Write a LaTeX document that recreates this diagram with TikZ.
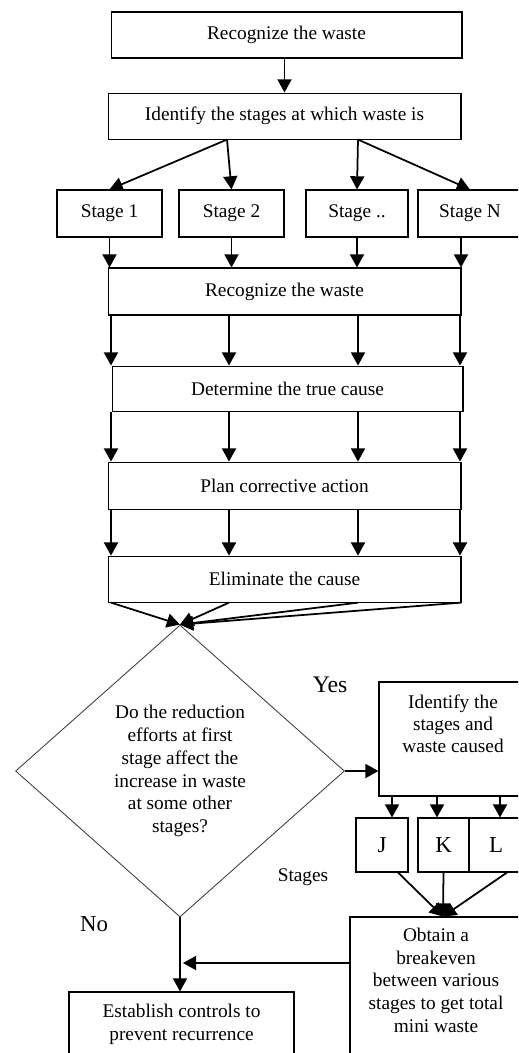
\documentclass[tikz,border=0pt]{standalone}
\usepackage{fontspec}
\setmainfont{Liberation Serif}
\usepackage{tikz}
\usetikzlibrary{shapes.geometric, arrows.meta, positioning}

\begin{document}
\begin{tikzpicture}[x=0.02cm, y=-0.02cm, font=\fontsize{11}{13}\selectfont,
	box/.style={draw, rectangle, align=center, line width=0.6pt, inner sep=0pt},
	wide/.style={box, minimum width=7.06cm, minimum height=0.94cm},
	stagebox/.style={box, minimum width=2.1cm, minimum height=0.94cm},
	letterbox/.style={box, minimum width=1.04cm, minimum height=1.08cm, font=\fontsize{13}{15}\selectfont},
	decision/.style={draw=black!75, diamond, align=center, minimum width=6.58cm, minimum height=5.84cm, inner sep=0pt, line width=0.5pt},
	arr/.style={-{Triangle[length=7.5pt, width=8pt]}, line width=1pt},
	txt/.style={align=center, inner sep=0pt}]
	
	\useasboundingbox (0,0) rectangle (518,1053);
	\clip (0,0) rectangle (518,1053);
	
	\node[wide, minimum width=7.02cm, minimum height=0.92cm] (rec1) at (286.5,35) {Recognize the waste};
	
	\node[wide, minimum height=0.92cm, below=0.68cm of rec1, xshift=-0.04cm] (ident) {Identify the stages at which waste is};
	
	\node[stagebox] (stage1) at (109.5,213.5) {Stage 1};
	\node[stagebox] (stage2) at (231.5,213.5) {Stage 2};
	\node[stagebox, minimum width=2.04cm] (stagedots) at (357,213.5) {Stage ..};
	\node[stagebox, minimum width=2.08cm] (stageN) at (470,213.5) {Stage N};
	
	\node[wide] (rec2) at (284.5,291.5) {Recognize the waste};
	\node[wide, minimum width=7.02cm, minimum height=0.9cm, below=1cm of rec2, xshift=0.06cm] (determine) {Determine the true cause};
	\node[wide, below=1cm of determine, xshift=-0.06cm] (plan) {Plan corrective action};
	\node[wide, minimum height=0.92cm, below=0.92cm of plan] (elim) {Eliminate the cause};
	
	\node[decision] (diamond) at (180,771) {Do the reduction\\efforts at first\\stage affect the\\increase in waste\\at some other\\stages?};
	
	\node[box, minimum width=2.96cm, minimum height=2.28cm] (idbox) at (453,739) {};
	\node[txt, below=0.27cm of idbox.north, font=\fontsize{11}{12.5}\selectfont] (idtext) {Identify the\\stages and\\waste caused};
	
	\node[letterbox] (J) at (382,845) {J};
	\node[letterbox, minimum width=1.02cm] (K) at (443.5,845) {K};
	\node[letterbox, minimum width=1.08cm] (L) at (496,845) {L};
	
	\node[box, minimum width=3.44cm, minimum height=3.06cm] (obtain) at (436,993.5) {};
	\node[txt, below=0.22cm of obtain.north] (obtaintext) {Obtain a\\breakeven\\between various\\stages to get total\\mini waste};
	
	\node[box, minimum width=4.5cm, minimum height=1.6cm] (establish) at (181.5,1032) {};
	\node[txt, below=0.25cm of establish.north] (establishtext) {Establish controls to\\prevent recurrence};
	
	\node[txt, font=\fontsize{13.5}{15}\selectfont] (yes) at (330,685) {Yes};
	\node[txt, font=\fontsize{13}{15}\selectfont] (no) at (94,924) {No};
	\node[txt] (stages) at (303,877) {Stages};
	
	\coordinate (meet) at (183,963);
	
	\draw[arr] (rec1.south -| ident) -- (ident.north);
	
	\draw[arr] ([xshift=-1.15cm]ident.south) -- (stage1.north);
	\draw[arr] ([xshift=-1.15cm]ident.south) -- (stage2.north);
	\draw[arr] ([xshift=1.47cm]ident.south) -- (stagedots.north);
	\draw[arr] ([xshift=1.47cm]ident.south) -- (stageN.north);
	
	\foreach \s in {stage1, stage2, stagedots}
		\draw[arr] (\s.south) -- (\s.south |- rec2.north);
	\draw[arr] ([xshift=-0.18cm]stageN.south) -- ([xshift=-0.18cm]stageN.south |- rec2.north);
	
	\foreach \a/\b in {rec2/determine, determine/plan, plan/elim}
		\foreach \cx in {111, 229, 358, 460}
			\draw[arr] (\cx,0 |- \a.south) -- (\cx,0 |- \b.north);
	
	\foreach \cx in {111, 229, 358, 461}
		\draw[arr] (\cx,0 |- elim.south) -- (diamond.north);
	
	\draw[arr] (diamond.east) -- (diamond.east -| idbox.west);
	
	\draw[arr] ([xshift=0.2cm]J.north |- idbox.south) -- ([xshift=0.2cm]J.north);
	\draw[arr] ([xshift=-0.13cm]K.north |- idbox.south) -- ([xshift=-0.13cm]K.north);
	\draw[arr] ([xshift=0.08cm]L.north |- idbox.south) -- ([xshift=0.08cm]L.north);
	
	\draw[arr] ([xshift=0.32cm]J.south) -- ([xshift=0.14cm]obtain.north);
	\draw[arr] (K.south) -- ([xshift=0.14cm]obtain.north);
	\draw[arr] ([xshift=0.22cm]L.south) -- ([xshift=0.14cm]obtain.north);
	
	\draw[arr] (diamond.south) -- (diamond.south |- establish.north);
	
	\draw[arr] (obtain.west |- meet) -- (meet);
\end{tikzpicture}
\end{document}
